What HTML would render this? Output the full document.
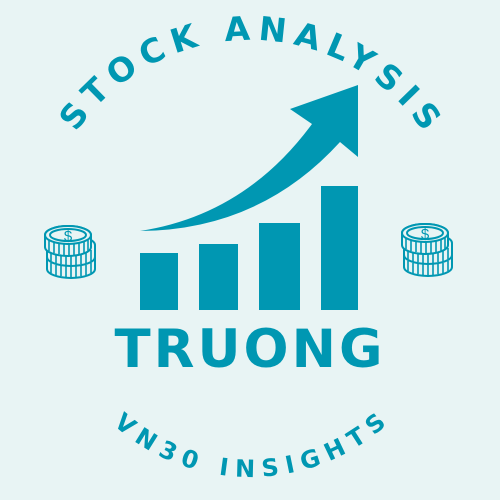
<!DOCTYPE html>
<html><head><meta charset="utf-8"><style>
html,body{margin:0;padding:0;background:#e8f4f4;}
svg{display:block;}
</style></head><body>
<svg width="500" height="500" viewBox="0 0 500 500">
<defs>
<path id="topArc" d="M 40,250 A 210 210 0 0 1 460,250"/>
<path id="botArc" d="M 45,272 A 205 205 0 0 0 455,272"/>
<g id="coin" fill="none" stroke="#0097b2" stroke-width="2">
  <path d="M -21,22 L -21,34 A 24 9 0 0 0 27,34 L 27,22" fill="#e8f4f4"/>
  <g stroke-width="1.6">
    <line x1="-17" y1="28" x2="-17" y2="38"/><line x1="-12" y1="30" x2="-12" y2="40"/><line x1="-7" y1="31" x2="-7" y2="41"/><line x1="-2" y1="31" x2="-2" y2="42"/><line x1="3" y1="31" x2="3" y2="42"/><line x1="8" y1="31" x2="8" y2="42"/><line x1="13" y1="31" x2="13" y2="41"/><line x1="18" y1="30" x2="18" y2="40"/><line x1="23" y1="28" x2="23" y2="38"/>
  </g>
  <path d="M -21,10 L -21,22 A 24 9 0 0 0 27,22 L 27,10 A 24 9 0 0 0 -21,10 Z" fill="#e8f4f4"/>
  <g stroke-width="1.6">
    <line x1="-17" y1="15" x2="-17" y2="26"/><line x1="-12" y1="17" x2="-12" y2="28"/><line x1="-7" y1="18" x2="-7" y2="29"/><line x1="-2" y1="18" x2="-2" y2="30"/><line x1="3" y1="18" x2="3" y2="30"/><line x1="8" y1="18" x2="8" y2="30"/><line x1="13" y1="18" x2="13" y2="29"/><line x1="18" y1="17" x2="18" y2="28"/><line x1="23" y1="15" x2="23" y2="26"/>
  </g>
  <path d="M -23,0 L -23,12 A 23 9 0 0 0 23,12 L 23,0 A 23 9 0 0 0 -23,0 Z" fill="#e8f4f4"/>
  <g stroke-width="1.6">
    <line x1="-19" y1="5" x2="-19" y2="16"/><line x1="-14" y1="7" x2="-14" y2="18"/><line x1="-9" y1="8" x2="-9" y2="19"/><line x1="-4" y1="8" x2="-4" y2="20"/><line x1="1" y1="8" x2="1" y2="20"/><line x1="6" y1="8" x2="6" y2="20"/><line x1="11" y1="8" x2="11" y2="19"/><line x1="16" y1="7" x2="16" y2="18"/><line x1="20" y1="5" x2="20" y2="16"/>
  </g>
  <ellipse cx="0" cy="0" rx="23" ry="9" fill="#e8f4f4"/>
  <ellipse cx="0" cy="0" rx="18" ry="6"/>
</g>
</defs>
<rect width="500" height="500" fill="#e8f4f4"/>

<text font-family="DejaVu Sans, Liberation Sans, sans-serif" font-weight="bold" font-size="33" fill="#0097b2">
  <textPath href="#topArc" startOffset="50%" text-anchor="middle" textLength="410" lengthAdjust="spacing">STOCK ANALYSIS</textPath>
</text>

<text font-family="DejaVu Sans, Liberation Sans, sans-serif" font-weight="bold" font-size="24" fill="#0097b2">
  <textPath href="#botArc" startOffset="50%" text-anchor="middle" textLength="300" lengthAdjust="spacing">VN30 INSIGHTS</textPath>
</text>

<g fill="#0097b2">
  <rect x="140" y="253" width="38" height="57"/>
  <rect x="199" y="244" width="39" height="66"/>
  <rect x="259" y="223" width="41" height="87"/>
  <rect x="321" y="186" width="37" height="124"/>
</g>

<path fill="#0097b2"
  d="M 140,231 Q 245,215 312,124 L 290,109 L 358,85 L 358,157 L 340,142 Q 260,230 140,231 Z"/>

<text x="250" y="367" text-anchor="middle" font-family="DejaVu Sans, Liberation Sans, sans-serif" font-weight="bold" font-size="53" letter-spacing="3" fill="#0097b2">TRUONG</text>

<use href="#coin" x="68" y="235"/>
<text x="68" y="241" text-anchor="middle" font-family="Liberation Sans, sans-serif" font-size="15" fill="#0097b2">$</text>
<use href="#coin" x="425" y="233"/>
<text x="425" y="239" text-anchor="middle" font-family="Liberation Sans, sans-serif" font-size="15" fill="#0097b2">$</text>
</svg>
</body></html>
